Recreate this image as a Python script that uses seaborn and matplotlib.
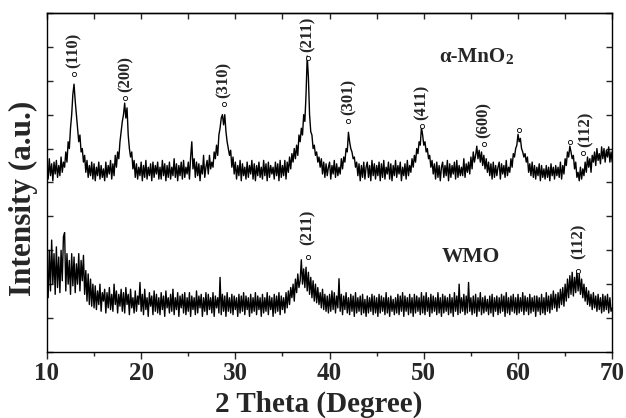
import numpy as np
import pandas as pd
import matplotlib
matplotlib.use("Agg")
import matplotlib.pyplot as plt
import seaborn as sns

# 2 theta grid, 0.125 degree steps from 10 to 70
two_theta = [10 + 0.125 * i for i in range(481)]

# alpha-MnO2 pattern (offset counts), one row per degree
mno2 = [
    545, 510, 570, 520, 555, 505, 560, 525,
    565, 515, 550, 520, 575, 530, 560, 545,
    590, 560, 620, 600, 660, 700, 760, 790,
    740, 700, 660, 620, 640, 590, 600, 560,
    580, 530, 565, 515, 550, 520, 560, 510,
    555, 505, 545, 520, 560, 510, 550, 515,
    540, 505, 560, 515, 550, 525, 565, 510,
    555, 520, 580, 545, 590, 570, 620, 650,
    680, 700, 734, 690, 720, 640, 600, 575,
    590, 540, 565, 515, 555, 510, 545, 520,
    560, 505, 550, 515, 565, 510, 545, 520,
    555, 505, 560, 515, 550, 525, 560, 510,
    545, 510, 565, 520, 555, 505, 550, 515,
    560, 510, 545, 520, 570, 515, 555, 505,
    550, 520, 560, 510, 565, 515, 545, 525,
    560, 510, 575, 620, 540, 570, 515, 560,
    520, 555, 505, 550, 525, 580, 515, 545,
    565, 525, 580, 540, 560, 545, 590, 570,
    610, 580, 640, 660, 690, 700, 670, 700,
    650, 620, 600, 580, 595, 545, 575, 525,
    560, 510, 550, 520, 565, 505, 555, 520,
    545, 510, 560, 515, 550, 525, 565, 510,
    555, 505, 550, 520, 560, 515, 545, 510,
    565, 520, 555, 505, 560, 515, 550, 525,
    545, 510, 560, 520, 555, 505, 565, 515,
    550, 520, 565, 510, 560, 530, 575, 540,
    585, 560, 600, 570, 610, 580, 640, 620,
    660, 640, 700, 680, 760, 873, 810, 700,
    650, 640, 600, 610, 580, 590, 560, 575,
    545, 570, 525, 560, 515, 555, 520, 545,
    560, 510, 550, 525, 565, 515, 555, 520,
    545, 525, 570, 540, 575, 560, 600, 590,
    648, 620, 600, 590, 570, 575, 545, 560,
    520, 555, 505, 550, 515, 560, 510, 545,
    560, 515, 550, 505, 565, 520, 555, 510,
    550, 520, 560, 505, 555, 515, 565, 510,
    545, 525, 560, 510, 555, 505, 550, 520,
    565, 515, 550, 525, 560, 505, 545, 520,
    555, 510, 565, 520, 550, 530, 570, 545,
    580, 560, 600, 585, 620, 610, 663, 640,
    610, 620, 590, 600, 570, 580, 545, 565,
    525, 555, 510, 560, 515, 550, 505, 545,
    560, 515, 550, 520, 565, 505, 555, 515,
    550, 525, 560, 510, 565, 515, 550, 520,
    545, 520, 570, 515, 555, 530, 560, 525,
    575, 540, 590, 560, 580, 607, 570, 595,
    560, 590, 550, 580, 540, 570, 530, 560,
    520, 555, 510, 560, 515, 550, 520, 545,
    560, 510, 555, 525, 550, 515, 565, 520,
    545, 530, 570, 545, 585, 575, 600, 610,
    642, 620, 630, 600, 590, 575, 585, 560,
    575, 530, 555, 520, 560, 515, 550, 510,
    545, 520, 555, 505, 550, 515, 540, 510,
    550, 515, 545, 505, 555, 520, 545, 510,
    550, 520, 545, 515, 560, 510, 550, 525,
    570, 550, 590, 575, 607, 590, 570, 580,
    540, 560, 515, 530, 505, 545, 510, 540,
    520, 560, 530, 575, 545, 570, 530, 580,
    560, 590, 550, 600, 565, 585, 555, 605,
    570, 600, 560, 595, 575, 605, 560, 590,
    560,
]

# WMO pattern (counts), one row per degree
wmo = [
    260, 160, 300, 180, 330, 200, 290, 170,
    310, 190, 280, 175, 300, 210, 340, 352,
    180, 290, 200, 270, 170, 290, 195, 280,
    175, 260, 200, 290, 180, 270, 210, 285,
    170, 240, 150, 230, 140, 215, 135, 200,
    130, 195, 125, 180, 140, 200, 120, 175,
    150, 185, 115, 175, 130, 190, 125, 170,
    120, 200, 140, 180, 115, 170, 135, 185,
    120, 175, 115, 190, 140, 170, 110, 185,
    130, 160, 115, 180, 120, 165, 140, 205,
    120, 170, 110, 185, 125, 160, 105, 175,
    135, 165, 110, 180, 120, 170, 115, 160,
    110, 175, 125, 165, 105, 180, 130, 160,
    115, 170, 120, 185, 110, 160, 125, 175,
    105, 165, 130, 170, 115, 175, 110, 160,
    120, 175, 105, 165, 125, 160, 110, 180,
    115, 165, 130, 170, 105, 160, 120, 175,
    110, 170, 125, 160, 115, 175, 105, 165,
    130, 160, 115, 220, 110, 170, 120, 165,
    105, 175, 120, 160, 115, 170, 110, 165,
    125, 160, 105, 170, 115, 165, 120, 175,
    110, 165, 125, 160, 105, 170, 115, 160,
    120, 175, 110, 165, 125, 160, 105, 170,
    115, 160, 120, 175, 110, 165, 125, 160,
    105, 170, 115, 165, 120, 175, 110, 165,
    125, 160, 115, 175, 130, 180, 140, 190,
    160, 200, 150, 215, 175, 230, 190, 210,
    272, 200, 245, 190, 250, 180, 235, 170,
    220, 160, 210, 150, 200, 145, 190, 140,
    175, 130, 185, 125, 170, 120, 165, 115,
    170, 120, 180, 125, 175, 115, 165, 130,
    216, 120, 170, 110, 165, 125, 175, 115,
    160, 110, 170, 120, 165, 105, 175, 115,
    160, 120, 165, 110, 170, 115, 155, 105,
    165, 115, 160, 120, 170, 110, 165, 115,
    160, 105, 170, 115, 165, 120, 160, 110,
    175, 115, 160, 105, 165, 120, 155, 110,
    160, 115, 170, 110, 165, 120, 175, 105,
    165, 120, 160, 110, 170, 115, 160, 105,
    170, 115, 165, 120, 160, 110, 175, 115,
    165, 110, 175, 120, 160, 105, 170, 115,
    165, 120, 160, 110, 175, 115, 160, 105,
    170, 115, 165, 120, 160, 110, 170, 115,
    160, 105, 175, 120, 165, 110, 200, 115,
    160, 120, 170, 110, 165, 115, 205, 120,
    160, 110, 165, 115, 170, 105, 160, 120,
    175, 110, 160, 115, 165, 120, 155, 110,
    165, 115, 170, 105, 160, 120, 165, 110,
    160, 115, 170, 120, 165, 105, 175, 115,
    160, 110, 165, 120, 170, 115, 160, 110,
    170, 115, 160, 120, 175, 110, 165, 120,
    160, 110, 170, 115, 160, 120, 165, 105,
    165, 120, 160, 110, 170, 115, 160, 110,
    175, 120, 165, 115, 170, 125, 180, 130,
    170, 120, 175, 130, 185, 140, 190, 135,
    200, 150, 215, 160, 225, 170, 235, 165,
    220, 175, 240, 180, 230, 170, 215, 160,
    200, 150, 190, 140, 180, 135, 170, 125,
    175, 130, 165, 120, 170, 125, 160, 115,
    170, 120, 165, 125, 170, 115, 160, 120,
    130,
]

# peak markers (hkl label, 2theta, height)
mno2_peak_labels = ["(110)", "(200)", "(310)", "(211)", "(301)", "(411)", "(600)", "", "", "(112)"]
mno2_peak_pos = [12.85, 18.3, 28.8, 37.7, 42.0, 49.8, 56.4, 60.1, 65.5, 66.9]
mno2_peak_h = [820, 749, 731, 867, 680, 666, 612, 654, 618, 586]

wmo_peak_labels = ["(211)", "(112)"]
wmo_peak_pos = [37.7, 66.4]
wmo_peak_h = [281, 240]

sns.set_theme(style="ticks")
plt.rcParams["font.family"] = ["Liberation Serif", "DejaVu Serif"]
plt.rcParams["font.weight"] = "bold"

fig = plt.figure(figsize=(6.26, 4.18), dpi=100)
ax = fig.add_axes([0.075, 0.158, 0.903, 0.811])

df = pd.DataFrame({"two_theta": two_theta, "mno2": mno2, "wmo": wmo})
sns.lineplot(data=df, x="two_theta", y="mno2", color="black", lw=1.0, ax=ax)
sns.lineplot(data=df, x="two_theta", y="wmo", color="black", lw=1.0, ax=ax)

# small circles and hkl labels
for lab, x, h in zip(mno2_peak_labels, mno2_peak_pos, mno2_peak_h):
    ax.plot(x, h, "o", ms=3, mfc="white", mec="black", mew=0.6)
    if lab:
        dx = 3 if lab == "(112)" else 0
        ax.annotate(lab, (x, h), xytext=(dx, 6), textcoords="offset pixels",
                    rotation=90, ha="center", va="bottom", fontsize=12, fontweight="bold")
for lab, x, h in zip(wmo_peak_labels, wmo_peak_pos, wmo_peak_h):
    ax.plot(x, h, "o", ms=3, mfc="white", mec="black", mew=0.6)
    ax.annotate(lab, (x, h), xytext=(0, 12), textcoords="offset pixels",
                rotation=90, ha="center", va="bottom", fontsize=12, fontweight="bold")

t = ax.text(51.6, 870, "\u03b1-MnO", fontsize=15, fontweight="bold", va="center")
ax.annotate("2", xy=(1, 0), xycoords=t, va="bottom", ha="left", fontsize=11, fontweight="bold")
ax.text(51.9, 280, "WMO", fontsize=15.5, fontweight="bold", va="center")

ax.set_xlim(10, 70)
ax.set_ylim(0, 1000)
ax.set_xticks(range(10, 71, 10))
ax.set_xticks(range(15, 70, 10), minor=True)
ax.set_yticks(range(0, 1001, 100))
ax.set_yticklabels([])
ax.tick_params(axis="x", which="major", direction="out", length=5, width=1, labelsize=18, pad=2)
ax.tick_params(axis="x", which="minor", direction="out", length=3, width=1)
ax.tick_params(axis="y", direction="in", length=4, width=1, left=True, right=True)
for lbl in ax.get_xticklabels():
    lbl.set_fontweight("bold")

top = ax.secondary_xaxis("top")
top.set_xticks(range(10, 71, 5))
top.set_xticklabels([])
top.tick_params(direction="in", length=4, width=1)

for s in ax.spines.values():
    s.set_linewidth(1.0)
    s.set_color("black")
top.spines["top"].set_linewidth(1.0)

ax.set_xlabel("2 Theta (Degree)", fontsize=21, fontweight="bold", labelpad=0)
ax.xaxis.set_label_coords(0.48, -0.115)
ax.xaxis.label.set_va("top")
ax.set_ylabel("Intensity (a.u.)", fontsize=22.5, fontweight="bold")
ax.yaxis.set_label_coords(-0.016, 0.454)

fig.savefig("out.png", dpi=100)
